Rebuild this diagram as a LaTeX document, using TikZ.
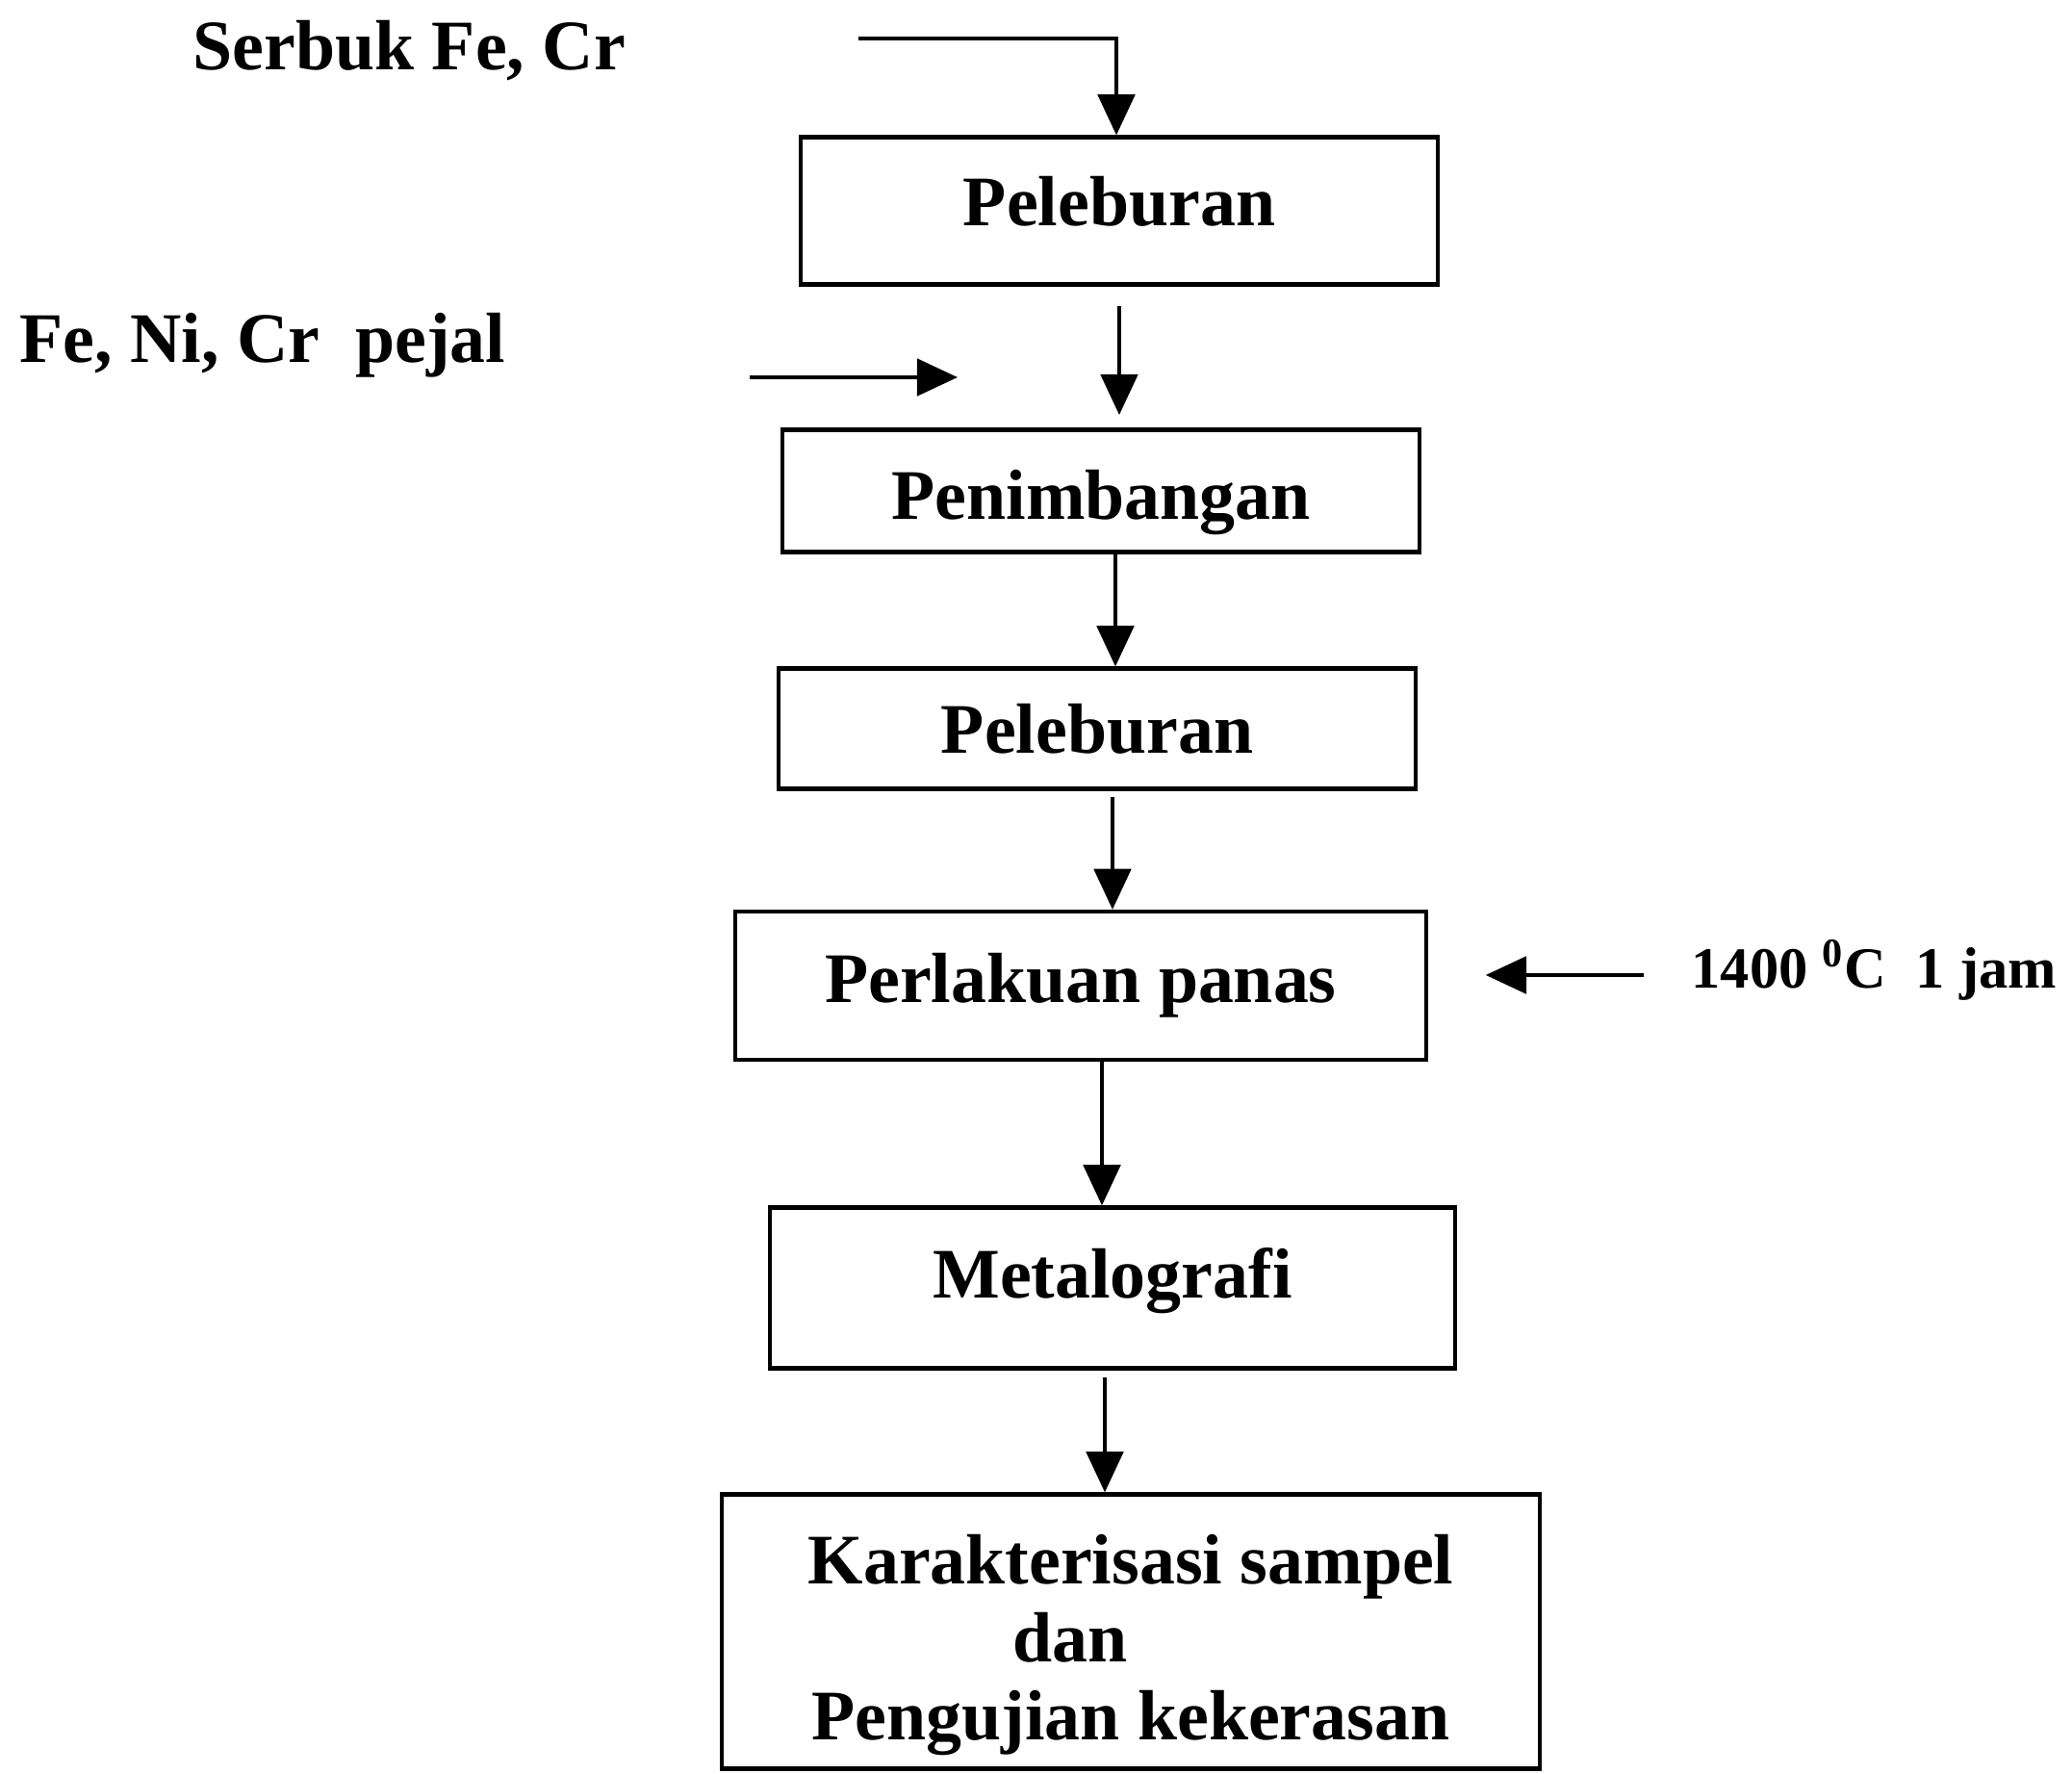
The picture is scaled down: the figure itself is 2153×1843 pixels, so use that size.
\documentclass[tikz,border=0pt]{standalone}
\usepackage{fontspec}
\setmainfont{Liberation Serif}
\usetikzlibrary{arrows.meta}

\tikzset{
	proses/.style={draw, line width=1.2pt, inner sep=0pt, align=center},
	bahan/.style={inner sep=0pt, anchor=base west},
	panah/.style={line width=0.9pt, -{Triangle[length=12pt,width=11pt]}}
}

\begin{document}
\begin{tikzpicture}[x=0.01cm, y=-0.01cm, font=\fontsize{21}{23}\selectfont\bfseries]
	\useasboundingbox (0,0) rectangle (2153,1843);
	% bahan masuk
	\node[bahan] (serbuk) at (200,73) {Serbuk Fe, Cr};
	\node[bahan] (pejal) at (20,377) {Fe, Ni, Cr\ \ pejal};
	\node[bahan, font=\fontsize{17.2}{19}\selectfont\bfseries] (suhu) at (1757,1027) {1400 \textsuperscript{0}C\ \ 1 jam};
	% proses
	\node[proses, minimum width=6.61cm, minimum height=1.53cm] (b1) at (1163,219) {\raisebox{0.2cm}{Peleburan}};
	\node[proses, minimum width=6.62cm, minimum height=1.27cm] (b2) at (1144,510) {\rule{0pt}{0.75cm}Penimbangan};
	\node[proses, minimum width=6.62cm, minimum height=1.25cm] (b3) at (1140,757) {Peleburan};
	\node[proses, minimum width=7.17cm, minimum height=1.54cm] (b4) at (1123,1024) {Perlakuan panas};
	\node[proses, minimum width=7.12cm, minimum height=1.67cm] (b5) at (1156,1338) {\raisebox{0.3cm}{Metalografi}};
	\node[proses, minimum width=8.49cm, minimum height=2.85cm] (b6) at (1175,1695)
		{\rule{0pt}{0.8cm}Karakterisasi sampel\\ \hspace*{-1.26cm}dan\\ Pengujian kekerasan};
	% panah
	\coordinate (s1) at (892,40);
	\coordinate (p1) at (779,392);
	\coordinate (p2) at (995,392);
	\coordinate (t1) at (1708,1013);
	\draw[panah] (s1) -| (b1.north -| 1160,0);
	\draw[panah] (p1) -- (p2);
	\draw[panah] (b1.south -| 1163,0) ++(0,20) -- (1163,431);
	\draw[panah] (b2.south -| 1159,0) -- (b3.north -| 1159,0);
	\draw[panah] (b3.south -| 1156,0) ++(0,6) -- (b4.north -| 1156,0);
	\draw[panah] (b4.south -| 1145,0) -- (b5.north -| 1145,0);
	\draw[panah] (b5.south -| 1148,0) ++(0,7) -- (b6.north -| 1148,0);
	\draw[panah, shorten >=0.6cm] (t1) -- (b4.east |- t1);
\end{tikzpicture}
\end{document}
